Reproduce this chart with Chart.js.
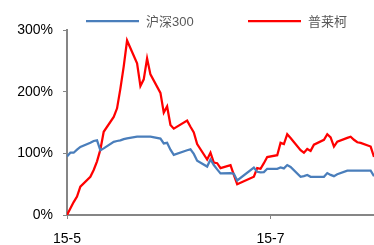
<!DOCTYPE html>
<html>
<head>
<meta charset="utf-8">
<script src="https://cdn.jsdelivr.net/npm/chart.js@4.4.0/dist/chart.umd.min.js"></script>
<style>
  html, body { margin: 0; padding: 0; background: #fff; }
</style>
</head>
<body>
<canvas id="chart" width="374" height="245"></canvas>
<script>
// trading days shown (Jul 9-10 missing in the source)
const tradeDates = [
  '2015-05-18', '2015-05-19', '2015-05-20', '2015-05-21', '2015-05-22',
  '2015-05-25', '2015-05-26', '2015-05-27', '2015-05-28', '2015-05-29',
  '2015-06-01', '2015-06-02', '2015-06-03', '2015-06-04', '2015-06-05',
  '2015-06-08', '2015-06-09', '2015-06-10', '2015-06-11', '2015-06-12',
  '2015-06-15', '2015-06-16', '2015-06-17', '2015-06-18', '2015-06-19',
  '2015-06-23', '2015-06-24', '2015-06-25', '2015-06-26', '2015-06-29', '2015-06-30',
  '2015-07-01', '2015-07-02', '2015-07-03', '2015-07-06', '2015-07-07', '2015-07-08',
  '2015-07-13', '2015-07-14', '2015-07-15', '2015-07-16', '2015-07-17',
  '2015-07-20', '2015-07-21', '2015-07-22', '2015-07-23', '2015-07-24',
  '2015-07-27', '2015-07-28', '2015-07-29', '2015-07-30', '2015-07-31',
  '2015-08-03', '2015-08-04', '2015-08-05', '2015-08-06', '2015-08-07',
  '2015-08-10', '2015-08-11', '2015-08-12', '2015-08-13', '2015-08-14',
  '2015-08-17', '2015-08-18'
];

const hs300 = [
  95, 101, 101, 106, 110.5, 117, 120, 121, 105, 108,
  118.7, 120, 121, 123, 124.4, 127, 127, 127, 127, 127,
  124, 116, 117, 106, 97.5, 105, 106.5, 99, 88, 78.5, 90,
  81, 74, 67.5, 68, 67, 56,
  77, 70, 69, 69.5, 75, 75, 77, 75.6, 81, 78,
  62, 63, 65, 62, 62,
  62, 68, 65, 63, 66, 72, 72, 72, 72, 72, 72, 63
];

const plk = [
  0, 10.5, 21, 30, 46, 62, 73, 87, 106, 135,
  159, 173, 205, 241, 283, 246, 209, 220, 254, 228,
  198, 166, 176, 146, 140, 153, 143, 134, 115, 90, 101,
  85, 84, 76, 81, 65, 50,
  62, 76, 75, 84, 94, 97, 117, 115, 131, 125,
  105, 101, 107, 104, 114,
  122, 131, 126, 111, 119, 125, 127, 122, 118, 117, 111, 94
];

const seriesNames = ['沪深300', '普莱柯'];
const seriesColors = ['#4a7ebb', '#ff0000'];

const startDate = '2015-05-18';
const endDate = '2015-08-18';
const tickDates = ['2015-05-18', '2015-07-18'];
const tickLabels = ['15-5', '15-7'];
const yTicks = [0, 100, 200, 300];

const dayOf = s => (Date.parse(s) - Date.parse(startDate)) / 86400000;
const toPoints = vals => vals.map((v, i) => ({ x: dayOf(tradeDates[i]), y: v }));

const fontLatin = 'Liberation Sans, Noto Sans CJK SC, sans-serif';

// legend drawn across the top, line sample + name
const topLegend = {
  id: 'topLegend',
  afterDraw(chart) {
    const ctx = chart.ctx;
    const starts = [86, 248];
    const y = 21;
    ctx.save();
    chart.data.datasets.forEach((ds, i) => {
      const x = starts[i];
      ctx.strokeStyle = ds.borderColor;
      ctx.lineWidth = 2.25;
      ctx.beginPath();
      ctx.moveTo(x, y);
      ctx.lineTo(x + 53, y);
      ctx.stroke();
      ctx.fillStyle = '#595959';
      ctx.font = '13px ' + fontLatin;
      ctx.textBaseline = 'middle';
      ctx.textAlign = 'left';
      ctx.fillText(ds.label, x + 60, y + 1);
    });
    ctx.restore();
  }
};

new Chart(document.getElementById('chart'), {
  type: 'line',
  data: {
    datasets: [
      {
        label: seriesNames[0],
        data: toPoints(hs300),
        borderColor: seriesColors[0],
        backgroundColor: seriesColors[0],
        borderWidth: 2.25,
        pointRadius: 0,
        tension: 0,
      },
      {
        label: seriesNames[1],
        data: toPoints(plk),
        borderColor: seriesColors[1],
        backgroundColor: seriesColors[1],
        borderWidth: 2.25,
        pointRadius: 0,
        tension: 0,
      },
    ],
  },
  options: {
    responsive: false,
    animation: false,
    devicePixelRatio: 1,
    layout: { padding: { top: 30, right: 0, left: 0, bottom: 0 } },
    plugins: {
      legend: { display: false },
      tooltip: { enabled: false },
    },
    scales: {
      x: {
        type: 'linear',
        min: 0,
        max: dayOf(endDate),
        afterBuildTicks: s => { s.ticks = tickDates.map(d => ({ value: dayOf(d) })); },
        afterFit: s => { s.height = 30; },
        ticks: {
          callback: (v, i) => tickLabels[i],
          autoSkip: false,
          maxRotation: 0,
          padding: 12,
          color: '#000',
          font: { size: 14, family: fontLatin },
        },
        grid: { drawOnChartArea: false, tickLength: 4, color: '#868686', lineWidth: 1 },
        border: { color: '#868686', width: 2 },
      },
      y: {
        min: 0,
        max: 300,
        afterBuildTicks: s => { s.ticks = yTicks.map(v => ({ value: v })); },
        afterFit: s => { s.width = 67; },
        ticks: {
          callback: v => v + '%',
          padding: 10,
          color: '#000',
          font: { size: 14, family: fontLatin },
        },
        grid: { drawOnChartArea: false, tickLength: 4, color: '#868686', lineWidth: 1 },
        border: { color: '#868686', width: 2 },
      },
    },
  },
  plugins: [topLegend],
});
</script>
</body>
</html>
